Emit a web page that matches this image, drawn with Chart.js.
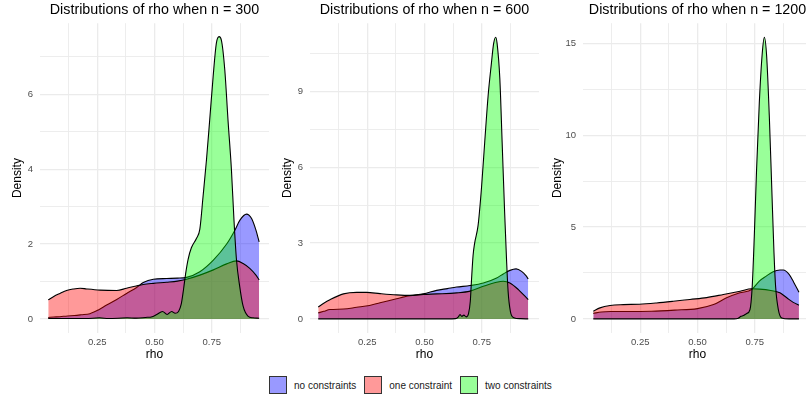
<!DOCTYPE html>
<html lang="en">
<head>
<meta charset="UTF-8">
<title>Distributions of rho</title>
<script src="https://cdn.jsdelivr.net/npm/chart.js@4.4.1/dist/chart.umd.min.js"></script>
<style>
  html, body { margin: 0; padding: 0; width: 806px; height: 400px; overflow: hidden; background: #fff;
    font-family: "Liberation Sans", Arial, sans-serif; }
  canvas { position: absolute; top: 0; }
  #c300 { left: 0; }
  #c600 { left: 270px; }
  #c1200 { left: 540px; }
  .legend { position: absolute; top: 376px; left: 269px; display: flex; align-items: center; font-size: 10px; color: #1a1a1a; }
  .item { display: flex; align-items: center; margin-right: 8px; }
  .key { width: 18px; height: 18px; box-sizing: border-box; border: 1px solid #333; margin-right: 7px; }
</style>
</head>
<body>
<canvas id="c300" width="270" height="365"></canvas>
<canvas id="c600" width="270" height="365"></canvas>
<canvas id="c1200" width="275" height="365"></canvas>

<div class="legend">
  <div class="item"><div class="key" style="background:rgba(0,0,255,0.4)"></div>no constraints</div>
  <div class="item"><div class="key" style="background:rgba(255,0,0,0.4)"></div>one constraint</div>
  <div class="item"><div class="key" style="background:rgba(0,255,0,0.4)"></div>two constraints</div>
</div>

<script>
// grid / tick positions
const xGrid = [0.125, 0.25, 0.375, 0.5, 0.625, 0.75, 0.875];
const xLabels = [0.25, 0.5, 0.75];
const yGrid300 = [0, 1, 2, 3, 4, 5, 6, 7];
const yLabels300 = [0, 2, 4, 6];
const yGrid600 = [0, 1.5, 3, 4.5, 6, 7.5, 9, 10.5];
const yLabels600 = [0, 3, 6, 9];
const yGrid1200 = [0, 2.5, 5, 7.5, 10, 12.5, 15];
const yLabels1200 = [0, 5, 10, 15];

// n = 300
const rho300_none = [0.036, 0.06, 0.087, 0.12, 0.15, 0.18, 0.218, 0.255, 0.291, 0.335, 0.378, 0.422, 0.451, 0.495, 0.553, 0.6, 0.64, 0.698, 0.757, 0.815, 0.851, 0.873, 0.902, 0.924, 0.943, 0.957];
const dens300_none = [0.04, 0.05, 0.06, 0.08, 0.09, 0.11, 0.14, 0.24, 0.37, 0.52, 0.68, 0.84, 0.97, 1.06, 1.08, 1.09, 1.11, 1.26, 1.57, 2.0, 2.37, 2.64, 2.8, 2.68, 2.37, 2.06];
const rho300_one = [0.036, 0.06, 0.087, 0.116, 0.146, 0.175, 0.204, 0.262, 0.335, 0.378, 0.42, 0.451, 0.495, 0.553, 0.6, 0.64, 0.698, 0.757, 0.815, 0.858, 0.887, 0.916, 0.943, 0.957];
const dens300_one = [0.51, 0.6, 0.68, 0.76, 0.8, 0.82, 0.8, 0.77, 0.76, 0.82, 0.88, 0.92, 0.95, 0.98, 1.01, 1.06, 1.17, 1.31, 1.47, 1.55, 1.48, 1.35, 1.17, 1.04];
const rho300_two = [0.036, 0.1, 0.2, 0.26, 0.3, 0.38, 0.42, 0.46, 0.49, 0.51, 0.535, 0.555, 0.575, 0.59, 0.605, 0.617, 0.627, 0.637, 0.647, 0.661, 0.683, 0.698, 0.712, 0.727, 0.741, 0.756, 0.77, 0.782, 0.792, 0.807, 0.821, 0.836, 0.847, 0.858, 0.872, 0.887, 0.909, 0.93, 0.957];
const dens300_two = [0.01, 0.01, 0.01, 0.03, 0.01, 0.03, 0.02, 0.04, 0.06, 0.12, 0.2, 0.12, 0.2, 0.15, 0.2, 0.4, 0.8, 1.25, 1.6, 1.9, 2.15, 2.4, 3.27, 4.25, 5.31, 6.47, 7.36, 7.54, 7.45, 6.65, 5.31, 3.98, 2.65, 1.58, 0.87, 0.34, 0.07, 0.03, 0.02];

// n = 600
const rho600_none = [0.036, 0.06, 0.087, 0.146, 0.204, 0.26, 0.306, 0.378, 0.437, 0.495, 0.553, 0.6, 0.64, 0.699, 0.757, 0.815, 0.844, 0.873, 0.9, 0.924, 0.943, 0.953];
const dens600_none = [0.24, 0.3, 0.37, 0.39, 0.46, 0.53, 0.64, 0.8, 0.92, 0.99, 1.13, 1.2, 1.26, 1.32, 1.42, 1.62, 1.78, 1.92, 1.98, 1.88, 1.71, 1.58];
const rho600_one = [0.036, 0.06, 0.087, 0.146, 0.204, 0.247, 0.306, 0.378, 0.437, 0.495, 0.553, 0.64, 0.699, 0.757, 0.815, 0.844, 0.873, 0.91, 0.953];
const dens600_one = [0.47, 0.62, 0.76, 0.99, 1.05, 1.05, 1.0, 0.95, 0.93, 0.97, 0.99, 1.03, 1.1, 1.29, 1.45, 1.49, 1.42, 1.16, 0.76];
const rho600_two = [0.036, 0.3, 0.6, 0.635, 0.648, 0.655, 0.663, 0.672, 0.682, 0.692, 0.7, 0.705, 0.712, 0.719, 0.734, 0.749, 0.763, 0.778, 0.792, 0.802, 0.811, 0.817, 0.829, 0.839, 0.85, 0.858, 0.865, 0.875, 0.89, 0.92, 0.953];
const dens600_two = [0, 0, 0, 0.01, 0.08, 0.17, 0.1, 0.15, 0.08, 0.2, 0.7, 1.5, 2.5, 3.0, 3.7, 5.2, 7.0, 8.85, 10.1, 10.9, 11.14, 10.9, 9.5, 7.0, 4.2, 2.4, 1.1, 0.3, 0.05, 0.01, 0];

// n = 1200
const rho1200_none = [0.045, 0.08, 0.12, 0.2, 0.3, 0.4, 0.5, 0.57, 0.627, 0.685, 0.737, 0.77, 0.8, 0.83, 0.86, 0.875, 0.9, 0.92, 0.943];
const dens1200_none = [0.3, 0.38, 0.4, 0.4, 0.42, 0.48, 0.56, 0.78, 1.15, 1.42, 1.6, 2.06, 2.33, 2.57, 2.66, 2.66, 2.42, 2.0, 1.45];
const rho1200_one = [0.045, 0.074, 0.118, 0.176, 0.246, 0.321, 0.394, 0.467, 0.54, 0.613, 0.686, 0.737, 0.77, 0.82, 0.85, 0.86, 0.89, 0.918, 0.943];
const dens1200_one = [0.42, 0.6, 0.73, 0.78, 0.8, 0.87, 0.96, 1.06, 1.16, 1.33, 1.51, 1.64, 1.62, 1.55, 1.47, 1.42, 1.15, 0.9, 0.75];
const rho1200_two = [0.045, 0.4, 0.66, 0.678, 0.69, 0.7, 0.715, 0.729, 0.739, 0.748, 0.758, 0.77, 0.783, 0.792, 0.802, 0.814, 0.824, 0.834, 0.841, 0.853, 0.868, 0.9, 0.943];
const dens1200_two = [0, 0, 0, 0.04, 0.14, 0.18, 0.3, 0.5, 1.78, 4.5, 8.15, 11.8, 14.5, 15.33, 14.3, 10.9, 7.24, 3.6, 1.78, 0.51, 0.05, 0, 0];

const BLUE = 'rgba(0,0,255,0.4)';
const RED = 'rgba(255,0,0,0.4)';
const GREEN = 'rgba(0,255,0,0.4)';

Chart.defaults.font.family = '"Liberation Sans", Arial, sans-serif';

function series(xs, ys, color, order) {
  return {
    data: xs.map((x, i) => ({ x: x, y: ys[i] })),
    backgroundColor: color,
    borderColor: '#000',
    borderWidth: 1.1,
    fill: 'origin',
    pointRadius: 0,
    cubicInterpolationMode: 'monotone',
    order: order
  };
}

function makePanel(id, title, datasets, yMin, yMax, yGrid, yLabels, yWidth, padRight) {
  new Chart(document.getElementById(id), {
    type: 'line',
    data: { datasets: datasets },
    options: {
      responsive: false,
      animation: false,
      events: [],
      layout: { padding: { left: 0, right: padRight, top: 0, bottom: 0 } },
      plugins: {
        legend: { display: false },
        tooltip: { enabled: false },
        title: {
          display: true, text: title, color: '#000', fullSize: false,
          font: { size: 14.3, weight: 'normal', lineHeight: 1.2 },
          padding: { top: 1, bottom: 5 }
        }
      },
      scales: {
        x: {
          type: 'linear', min: 0, max: 1,
          afterBuildTicks: s => { s.ticks = xGrid.map(v => ({ value: v })); },
          afterFit: s => { s.height = 32; },
          border: { display: false },
          grid: { color: '#ebebeb', drawTicks: false,
                  lineWidth: c => xLabels.includes(c.tick.value) ? 1.3 : 0.9 },
          ticks: { autoSkip: false, maxRotation: 0, padding: 4, color: '#4d4d4d',
                   font: { size: 9.5 },
                   callback: v => xLabels.includes(v) ? v.toFixed(2) : '' },
          title: { display: true, text: 'rho', color: '#000', font: { size: 12, lineHeight: 1.2 },
                   padding: { top: 0, bottom: 3 } }
        },
        y: {
          min: yMin, max: yMax,
          afterBuildTicks: s => { s.ticks = yGrid.map(v => ({ value: v })); },
          afterFit: s => { s.width = yWidth; },
          border: { display: false },
          grid: { color: '#ebebeb', drawTicks: false,
                  lineWidth: c => yLabels.includes(c.tick.value) ? 1.3 : 0.9 },
          ticks: { autoSkip: false, padding: 7, color: '#4d4d4d', font: { size: 9.5 },
                   callback: v => yLabels.includes(v) ? String(v) : '' },
          title: { display: true, text: 'Density', color: '#000', font: { size: 12, lineHeight: 1.2 },
                   padding: { top: 10, bottom: 0 } }
        }
      }
    }
  });
}

makePanel('c300', 'Distributions of rho when n = 300', [
  series(rho300_none, dens300_none, BLUE, 3),
  series(rho300_one, dens300_one, RED, 2),
  series(rho300_two, dens300_two, GREEN, 1)
], -0.376, 7.9, yGrid300, yLabels300, 40, 1);

makePanel('c600', 'Distributions of rho when n = 600', [
  series(rho600_none, dens600_none, BLUE, 3),
  series(rho600_one, dens600_one, RED, 2),
  series(rho600_two, dens600_two, GREEN, 1)
], -0.557, 11.7, yGrid600, yLabels600, 40, 1);

makePanel('c1200', 'Distributions of rho when n = 1200', [
  series(rho1200_none, dens1200_none, BLUE, 3),
  series(rho1200_one, dens1200_one, RED, 2),
  series(rho1200_two, dens1200_two, GREEN, 1)
], -0.767, 16.1, yGrid1200, yLabels1200, 43, 3);
</script>
</body>
</html>
